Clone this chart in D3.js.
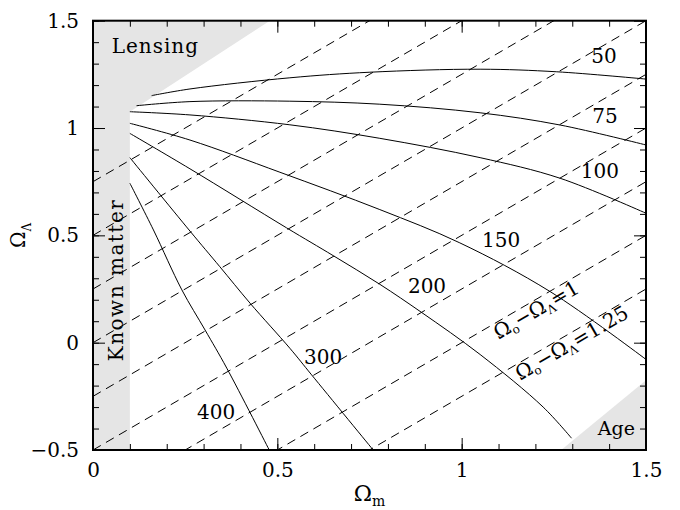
<!DOCTYPE html>
<html>
<head>
<meta charset="utf-8">
<script src="https://cdn.jsdelivr.net/npm/d3@7"></script>
<style>
  body { margin: 0; background: #fff; }
  svg text { font-family: "DejaVu Serif", "Liberation Serif", serif; fill: #000; }
</style>
</head>
<body>
<div id="chart"></div>
<script>
// Omega_m along x, Omega_Lambda along y
const xMajor = [0, 0.5, 1, 1.5];
const yMajor = [-0.5, 0, 0.5, 1, 1.5];
const xMinor = d3.range(0, 16).map(i => i / 10);
const yMinor = d3.range(-5, 16).map(i => i / 10);

// solid curves: [Omega_m, Omega_Lambda]
const curve50 = [[0.159, 1.151], [0.263, 1.182], [0.534, 1.234], [0.751, 1.26], [1.05, 1.274], [1.258, 1.262], [1.5, 1.228]];
const curve75 = [[0.118, 1.104], [0.263, 1.123], [0.534, 1.125], [0.778, 1.111], [1.05, 1.071], [1.267, 1.014], [1.5, 0.921]];
const curve100 = [[0.1, 1.076], [0.263, 1.061], [0.534, 1.015], [0.778, 0.952], [1.05, 0.862], [1.267, 0.766], [1.5, 0.603]];
const curve150 = [[0.1, 1.022], [0.263, 0.944], [0.507, 0.794], [0.778, 0.62], [0.995, 0.465], [1.24, 0.238], [1.5, -0.078]];
const curve200 = [[0.1, 0.975], [0.263, 0.81], [0.525, 0.535], [0.652, 0.405], [0.778, 0.272], [0.892, 0.14], [1.05, -0.055], [1.221, -0.3], [1.298, -0.445]];
const curve300 = [[0.1, 0.862], [0.263, 0.52], [0.344, 0.354], [0.426, 0.184], [0.534, -0.026], [0.593, -0.15], [0.76, -0.5]];
const curve400 = [[0.1, 0.743], [0.164, 0.525], [0.241, 0.246], [0.304, 0.059], [0.363, -0.119], [0.478, -0.5]];
const curves = [curve50, curve75, curve100, curve150, curve200, curve300, curve400];

const curveNames = ["50", "75", "100", "150", "200", "300", "400"];
const curveLabelAt = [[1.386, 1.336], [1.389, 1.056], [1.375, 0.8], [1.107, 0.481], [0.906, 0.266], [0.624, -0.067], [0.334, -0.32]];

// dashed lines: Omega_m - Omega_Lambda = c
const dashConst = [-0.75, -0.5, -0.25, 0, 0.25, 0.5, 0.75, 1, 1.25];
const dashLabelled = [1, 1.25];
const dashLabelStart = [1.078, 1.137];

// shaded regions
const lensingMatter = [[0, -0.5], [0.1, -0.5], [0.1, 1.076], [0.48, 1.5], [0, 1.5]];
const ageRegion = [[1.27, -0.5], [1.5, -0.5], [1.5, -0.175]];

const W = 680, H = 510;
const margin = { top: 20.7, right: 34, bottom: 60, left: 93 };

const svg = d3.select("#chart").append("svg")
    .attr("width", W)
    .attr("height", H);

const x = d3.scaleLinear().domain([0, 1.5]).range([margin.left, W - margin.right]);
const y = d3.scaleLinear().domain([-0.5, 1.5]).range([H - margin.bottom, margin.top]);

svg.append("clipPath").attr("id", "plot")
    .append("rect")
    .attr("x", x(0)).attr("y", y(1.5))
    .attr("width", x(1.5) - x(0)).attr("height", y(-0.5) - y(1.5));

const line = d3.line().x(d => x(d[0])).y(d => y(d[1]));

// Gray regions
svg.append("path").attr("d", line(lensingMatter) + "Z").attr("fill", "#e5e5e5");
svg.append("path").attr("d", line(ageRegion) + "Z").attr("fill", "#e5e5e5");

// Dashed lines
const plotArea = svg.append("g").attr("clip-path", "url(#plot)");
plotArea.selectAll("line.dash")
    .data(dashConst)
    .enter()
    .append("line")
    .attr("class", "dash")
    .attr("x1", x(0)).attr("y1", c => y(0 - c))
    .attr("x2", x(1.5)).attr("y2", c => y(1.5 - c))
    .attr("stroke", "#000")
    .attr("stroke-width", 1)
    .attr("stroke-dasharray", "9,6");

// Solid curves
const smooth = d3.line().x(d => x(d[0])).y(d => y(d[1])).curve(d3.curveCatmullRom);
plotArea.selectAll("path.curve")
    .data(curves)
    .enter()
    .append("path")
    .attr("class", "curve")
    .attr("d", smooth)
    .attr("fill", "none")
    .attr("stroke", "#000")
    .attr("stroke-width", 1);

// Curve labels
svg.selectAll("text.clabel")
    .data(curveNames)
    .enter()
    .append("text")
    .attr("class", "clabel")
    .attr("x", (d, i) => x(curveLabelAt[i][0]))
    .attr("y", (d, i) => y(curveLabelAt[i][1]))
    .attr("dy", "0.36em")
    .attr("text-anchor", "middle")
    .attr("font-size", 20)
    .text(d => d);

// Dashed line labels, rotated along the line
const angle = -Math.atan2(y(0) - y(1), x(1) - x(0)) * 180 / Math.PI;
dashLabelled.forEach((c, i) => {
    const m = dashLabelStart[i];
    const t = svg.append("text")
        .attr("transform", `translate(${x(m)},${y(m - c)}) rotate(${angle})`)
        .attr("x", 0).attr("y", 16)
        .attr("font-size", 20);
    t.append("tspan").text("Ω");
    t.append("tspan").attr("font-size", 12).attr("dy", 4).text("o");
    t.append("tspan").attr("dy", -4).text("−Ω");
    t.append("tspan").attr("font-size", 12).attr("dy", 4).text("Λ");
    t.append("tspan").attr("dy", -4).text("=" + c);
});

// Region labels
svg.append("text")
    .attr("x", x(0.0507)).attr("y", y(1.35))
    .attr("font-size", 20)
    .attr("letter-spacing", 1)
    .text("Lensing");

svg.append("text")
    .attr("transform", `translate(${x(0.081)},${y(0.292)}) rotate(-90)`)
    .attr("text-anchor", "middle")
    .attr("font-size", 20)
    .attr("letter-spacing", 1.5)
    .text("Known matter");

svg.append("text")
    .attr("x", x(1.47)).attr("y", y(-0.43))
    .attr("text-anchor", "end")
    .attr("font-size", 19)
    .text("Age");

// Ticks on all four sides, pointing inward
const tickSides = [
    { axis: d3.axisBottom, pos: `translate(0,${y(-0.5)})`, sc: x, minor: xMinor, major: xMajor },
    { axis: d3.axisTop, pos: `translate(0,${y(1.5)})`, sc: x, minor: xMinor, major: xMajor },
    { axis: d3.axisLeft, pos: `translate(${x(0)},0)`, sc: y, minor: yMinor, major: yMajor },
    { axis: d3.axisRight, pos: `translate(${x(1.5)},0)`, sc: y, minor: yMinor, major: yMajor }
];
tickSides.forEach(s => {
    [[s.minor, 6], [s.major, 12]].forEach(([vals, len]) => {
        const g = svg.append("g")
            .attr("transform", s.pos)
            .call(s.axis(s.sc).tickValues(vals).tickSize(-len).tickFormat(""));
        g.select(".domain").remove();
        g.selectAll("line").attr("stroke", "#000").attr("stroke-width", 1);
    });
});

// Tick labels
const fmt = d3.format("~g");
const xLab = svg.append("g")
    .attr("transform", `translate(0,${y(-0.5)})`)
    .call(d3.axisBottom(x).tickValues(xMajor).tickSize(0).tickPadding(13).tickFormat(fmt));
xLab.select(".domain").remove();
xLab.selectAll("text").attr("font-size", 20).attr("font-family", "DejaVu Serif");

const yLab = svg.append("g")
    .attr("transform", `translate(${x(0)},0)`)
    .call(d3.axisLeft(y).tickValues(yMajor).tickSize(0).tickPadding(14).tickFormat(fmt));
yLab.select(".domain").remove();
yLab.selectAll("text").attr("font-size", 20).attr("font-family", "DejaVu Serif");

// Frame
svg.append("rect")
    .attr("x", x(0)).attr("y", y(1.5))
    .attr("width", x(1.5) - x(0)).attr("height", y(-0.5) - y(1.5))
    .attr("fill", "none")
    .attr("stroke", "#000")
    .attr("stroke-width", 2);

// Axis titles
const xt = svg.append("text")
    .attr("x", (x(0) + x(1.5)) / 2).attr("y", 501)
    .attr("text-anchor", "middle")
    .attr("font-size", 22);
xt.append("tspan").text("Ω");
xt.append("tspan").attr("font-size", 14).attr("dy", 5).text("m");

const yt = svg.append("text")
    .attr("transform", `translate(25,${(y(-0.5) + y(1.5)) / 2}) rotate(-90)`)
    .attr("text-anchor", "middle")
    .attr("font-size", 20);
yt.append("tspan").text("Ω");
yt.append("tspan").attr("font-size", 12).attr("dy", 6).text("Λ");
</script>
</body>
</html>
